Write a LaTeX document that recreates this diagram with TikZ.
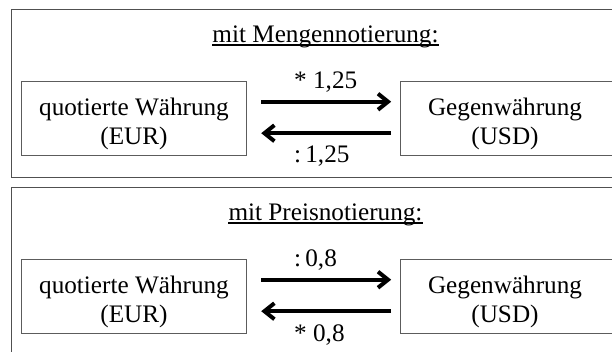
\documentclass[tikz,border=0pt]{standalone}
\usepackage{fontspec}
\setmainfont{Liberation Serif}
\usetikzlibrary{arrows.meta,calc}
\definecolor{framegray}{HTML}{505050}
\definecolor{boxgray}{HTML}{5C5C5C}
\begin{document}
\begin{tikzpicture}[x=1pt,y=-1pt,
  panel/.style={draw=framegray,line width=1pt},
  cbox/.style={draw=boxgray,line width=1pt,rectangle,inner sep=0pt,
               minimum width=225.4pt,minimum height=74pt},
  big/.style={font=\fontsize{25.2}{28.2}\selectfont,inner sep=0pt},
  btxt/.style={big,align=center},
  ttl/.style={big,anchor=base},
  lbl/.style={big,anchor=base west},
  uline/.style={line width=1.3pt},
  arr/.style={line width=4pt,-{Straight Barb[length=10pt,width=16pt]}}
]
\useasboundingbox (0,0) rectangle (612,352);

% ---------- upper panel: Mengennotierung ----------
\draw[panel] (11,9.3) rectangle (640,177.7);
\node[ttl] (T1) at (325.5,42.5) {mit Mengennotierung:};
\draw[uline] ([yshift=-2.6pt]T1.base west) -- ([yshift=-2.6pt]T1.base east);

\node[cbox] (L1) at (134,118.7) {};
\node[cbox] (R1) at (513.4,118.7) {};
\node[btxt] (L1t) at (134,124) {quotierte Währung\\(EUR)};
\node[btxt] (R1t) at (505,124) {Gegenwährung\\(USD)};

\coordinate (A1s) at ($(L1.east)+(14pt,17pt)$);
\coordinate (A1e) at ($(R1.west)+(-9pt,17pt)$);
\coordinate (B1s) at ($(R1.west)+(-9pt,-14.5pt)$);
\coordinate (B1e) at ($(L1.east)+(14pt,-14.5pt)$);
\draw[arr] (A1s) -- (A1e);
\draw[arr] (B1s) -- (B1e);
\node[lbl] (M1) at (294,88.5) {* 1,25};
\node[lbl] (D1) at (294,163) {:\,1,25};

% ---------- lower panel: Preisnotierung ----------
\draw[panel] (11,187.3) rectangle (640,366);
\node[ttl] (T2) at (325.5,220.5) {mit Preisnotierung:};
\draw[uline] ([yshift=-2.6pt]T2.base west) -- ([yshift=-2.6pt]T2.base east);

\node[cbox] (L2) at (134,296.7) {};
\node[cbox] (R2) at (513.4,296.7) {};
\node[btxt] (L2t) at (134,302) {quotierte Währung\\(EUR)};
\node[btxt] (R2t) at (505,302) {Gegenwährung\\(USD)};

\coordinate (A2s) at ($(L2.east)+(14pt,17pt)$);
\coordinate (A2e) at ($(R2.west)+(-9pt,17pt)$);
\coordinate (B2s) at ($(R2.west)+(-9pt,-14.5pt)$);
\coordinate (B2e) at ($(L2.east)+(14pt,-14.5pt)$);
\draw[arr] (A2s) -- (A2e);
\draw[arr] (B2s) -- (B2e);
\node[lbl] (M2) at (294,266.5) {:\,0,8};
\node[lbl] (D2) at (294,341) {* 0,8};
\end{tikzpicture}
\end{document}
